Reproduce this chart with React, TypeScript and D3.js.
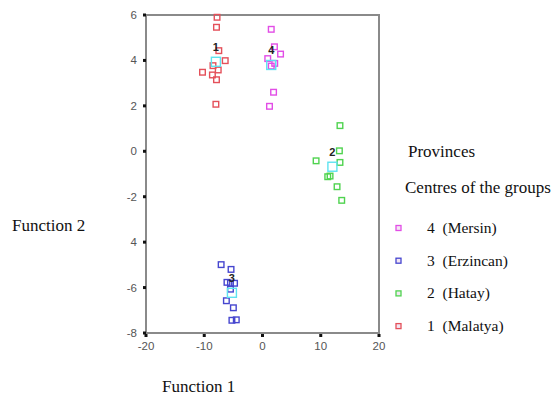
import { useEffect, useRef } from 'react';
import * as d3 from 'd3';

// discriminant scores
const malatyaX = [-7.8, -7.9, -7.5, -6.4, -10.3, -8.5, -8.6, -7.6, -7.9, -8.0];
const malatyaY = [5.9, 5.46, 4.43, 3.99, 3.48, 3.77, 3.36, 3.58, 3.15, 2.07];
const hatayX = [13.3, 13.2, 9.2, 13.3, 11.2, 11.6, 12.8, 13.6];
const hatayY = [1.13, 0.02, -0.42, -0.49, -1.12, -1.09, -1.56, -2.16];
const erzincanX = [-7.1, -5.4, -6.1, -5.5, -4.8, -5.5, -6.2, -5.0, -5.25, -4.5];
const erzincanY = [-4.99, -5.2, -5.77, -5.81, -5.81, -6.07, -6.58, -6.89, -7.44, -7.42];
const mersinX = [1.5, 2.05, 3.1, 0.9, 2.1, 1.5, 1.9, 1.2];
const mersinY = [5.37, 4.6, 4.28, 4.08, 3.87, 3.75, 2.6, 1.98];

const groupIds = ['1', '2', '3', '4'];
const centroidX = [-8.0, 12.0, -5.25, 1.5];
const centroidY = [3.94, -0.68, -6.23, 3.8];

const legendLabels = ['4  (Mersin)', '3  (Erzincan)', '2  (Hatay)', '1  (Malatya)'];
const legendColors = ['#e24de6', '#4646cf', '#4fd34f', '#e4505a'];

const xTicks = [-20, -10, 0, 10, 20];
const yTicks = [6, 4, 2, 0, -2, -4, -6, -8];
const yTickLabels = ['6', '4', '2', '0', '-2', '4', '-6', '-8'];

function App() {
  const ref = useRef<SVGSVGElement>(null);

  useEffect(() => {
    const svg = d3.select(ref.current);
    svg.selectAll('*').remove();

    const x = d3.scaleLinear().domain([-20, 20]).range([146, 379]);
    const y = d3.scaleLinear().domain([-8, 6]).range([333, 15]);

    const groups = [
      { xs: malatyaX, ys: malatyaY, color: '#e4505a' },
      { xs: hatayX, ys: hatayY, color: '#4fd34f' },
      { xs: erzincanX, ys: erzincanY, color: '#4646cf' },
      { xs: mersinX, ys: mersinY, color: '#e24de6' },
    ];

    // frame
    svg.append('rect')
      .attr('x', x(-20)).attr('y', y(6))
      .attr('width', x(20) - x(-20)).attr('height', y(-8) - y(6))
      .attr('fill', 'none').attr('stroke', '#8a8a8a').attr('stroke-width', 2);

    // y ticks
    const yAxis = svg.append('g');
    yTicks.forEach((t, i) => {
      yAxis.append('rect').attr('x', x(-20) - 3).attr('y', y(t) - 1.5)
        .attr('width', 3).attr('height', 3).attr('fill', '#111');
      yAxis.append('text').attr('x', x(-20) - 9).attr('y', y(t) + 4)
        .attr('text-anchor', 'end').attr('font-family', 'Arial, Liberation Sans, sans-serif')
        .attr('font-size', 11.5).attr('fill', '#555').text(yTickLabels[i]);
    });

    // x ticks
    const xAxis = svg.append('g');
    xTicks.forEach((t) => {
      xAxis.append('rect').attr('x', x(t) - 1.5).attr('y', y(-8) + 1)
        .attr('width', 3).attr('height', 3).attr('fill', '#111');
      xAxis.append('text').attr('x', x(t)).attr('y', y(-8) + 17)
        .attr('text-anchor', 'middle').attr('font-family', 'Arial, Liberation Sans, sans-serif')
        .attr('font-size', 11.5).attr('fill', '#555').text(String(t));
    });

    // points
    groups.forEach((g) => {
      svg.append('g').selectAll('rect')
        .data(g.xs.map((v, i) => [v, g.ys[i]]))
        .enter()
        .append('rect')
        .attr('x', (d) => x(d[0]) - 2.8)
        .attr('y', (d) => y(d[1]) - 2.8)
        .attr('width', 5.6).attr('height', 5.6)
        .attr('fill', 'none')
        .attr('stroke', g.color)
        .attr('stroke-width', 1.4);
    });

    // group centroids
    groupIds.forEach((id, i) => {
      svg.append('rect')
        .attr('x', x(centroidX[i]) - 4.5).attr('y', y(centroidY[i]) - 4.5)
        .attr('width', 9).attr('height', 9)
        .attr('fill', 'none').attr('stroke', '#5ee3f0').attr('stroke-width', 1.4);
      svg.append('text')
        .attr('x', x(centroidX[i])).attr('y', y(centroidY[i]) - 11)
        .attr('text-anchor', 'middle')
        .attr('font-family', 'Arial, Liberation Sans, sans-serif')
        .attr('font-size', 11).attr('font-weight', 'bold').attr('fill', '#222')
        .text(id);
    });

    const serif = 'Times New Roman, Liberation Serif, serif';

    // axis titles
    svg.append('text').attr('x', 12).attr('y', 231)
      .attr('font-family', serif).attr('font-size', 17).attr('fill', '#111')
      .text('Function 2');
    svg.append('text').attr('x', 162).attr('y', 392)
      .attr('font-family', serif).attr('font-size', 17).attr('fill', '#111')
      .text('Function 1');

    // legend
    svg.append('text').attr('x', 408).attr('y', 157)
      .attr('font-family', serif).attr('font-size', 17).attr('fill', '#111')
      .text('Provinces');
    svg.append('text').attr('x', 405).attr('y', 193)
      .attr('font-family', serif).attr('font-size', 17).attr('fill', '#111')
      .text('Centres of the groups');

    legendLabels.forEach((lab, i) => {
      const ly = 228 + i * 32.7;
      svg.append('rect').attr('x', 396).attr('y', ly - 2.5)
        .attr('width', 5).attr('height', 5)
        .attr('fill', '#f3e6f3').attr('stroke', legendColors[i]).attr('stroke-width', 1.3);
      svg.append('text').attr('x', 427).attr('y', ly + 5)
        .attr('font-family', serif).attr('font-size', 15.5).attr('fill', '#111')
        .style('white-space', 'pre')
        .text(lab);
    });
  }, []);

  return (
    <svg ref={ref} width={560} height={398}
      style={{ position: 'absolute', left: 0, top: 0, background: '#fff' }} />
  );
}

export default App;
